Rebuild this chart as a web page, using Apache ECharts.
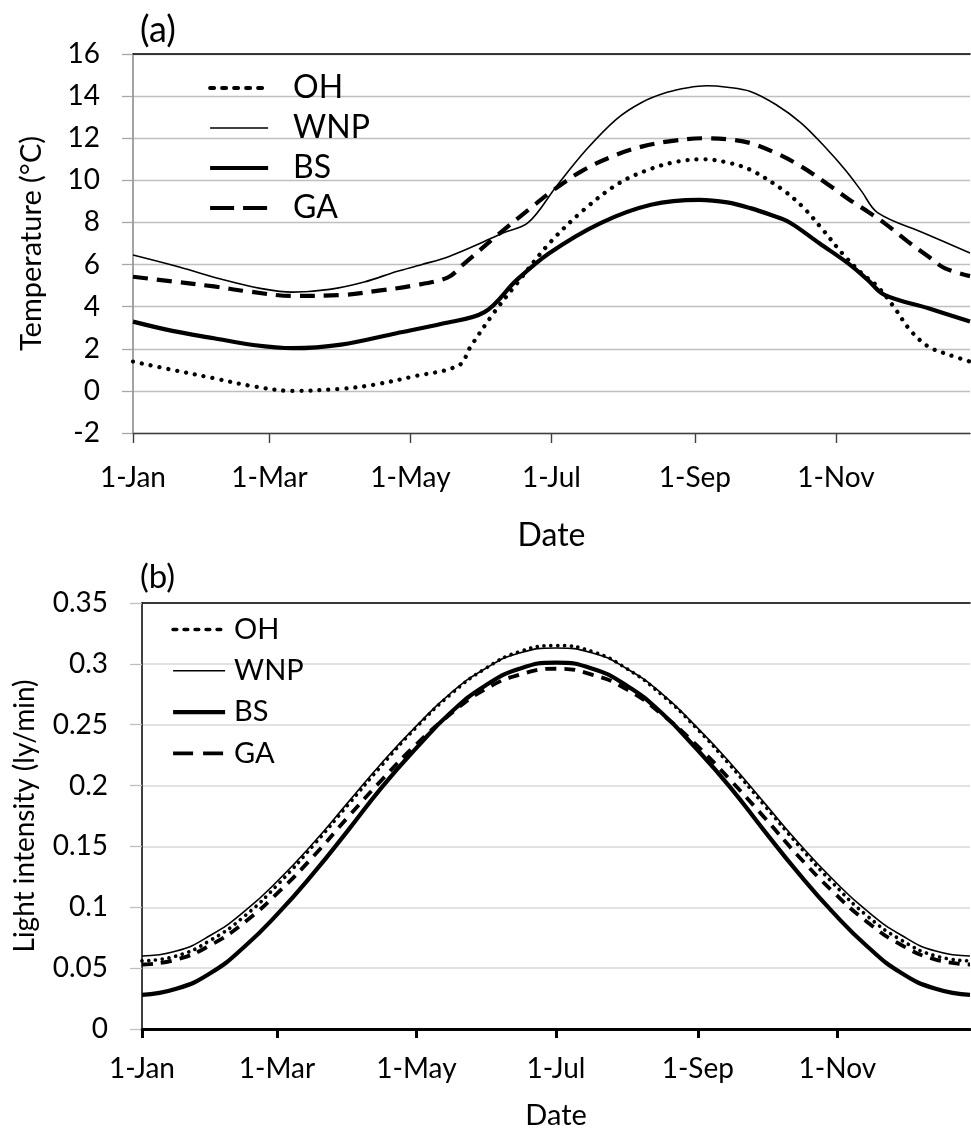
<!DOCTYPE html>
<html>
<head>
<meta charset="utf-8">
<script src="https://cdn.jsdelivr.net/npm/echarts@6/dist/echarts.min.js"></script>
<style>
html,body{margin:0;padding:0;background:#fff;}
#chart{width:971px;height:1138px;}
</style>
</head>
<body>
<div id="chart"></div>
<script>
// ---- axis ticks ----
const tickDays = [0, 59, 120, 181, 243, 304];
const tickLabels = ['1-Jan', '1-Mar', '1-May', '1-Jul', '1-Sep', '1-Nov'];
const seriesNames = ['OH', 'WNP', 'BS', 'GA'];

// ---- (a) temperature, [day of year] and value (°C) ----
const ohTempDays = [0,17,35,52,69,90,104,121,141,146,156,166,180,195,210,224,236,247,257,267,281,290,298,307,315,322,329,336,344,352,362];
const ohTemp     = [1.39,1.0,0.6,0.22,0.0,0.1,0.29,0.68,1.22,2.1,3.7,5.1,7.0,8.6,9.85,10.55,10.9,11.0,10.85,10.5,9.55,8.7,7.7,6.5,5.6,4.96,4.0,2.9,2.1,1.75,1.39];

const wnpTempDays = [0,20,40,55,69,85,100,114,125,137,150,160,171,183,196,209,220,231,240,248,257,267,278,289,300,308,315,322,342,362];
const wnpTemp     = [6.45,5.88,5.25,4.87,4.69,4.82,5.17,5.67,6.0,6.4,7.0,7.5,8.0,9.7,11.45,12.9,13.7,14.18,14.4,14.49,14.42,14.22,13.6,12.72,11.5,10.5,9.5,8.47,7.5,6.55];

const bsTempDays = [0,17,35,52,69,90,114,134,152,166,180,202,224,245,257,267,276,284,297,310,318,325,344,362];
const bsTemp     = [3.29,2.85,2.5,2.18,2.03,2.2,2.74,3.2,3.74,5.27,6.54,7.96,8.84,9.07,8.95,8.68,8.35,8.0,7.0,6.0,5.25,4.56,3.92,3.3];

const gaTempDays = [0,17,35,50,69,90,107,120,136,143,156,171,182,195,209,220,231,247,257,267,278,289,300,310,318,325,335,344,351,362];
const gaTemp     = [5.42,5.2,4.96,4.72,4.51,4.55,4.77,4.98,5.38,6.02,7.25,8.6,9.55,10.5,11.21,11.6,11.84,12.0,11.95,11.77,11.3,10.66,9.85,9.07,8.5,7.97,7.1,6.38,5.83,5.45];

// ---- (b) light intensity (ly/min) ----
const lightDays = [0,15,30,45,60,75,90,105,120,135,150,165,181,197,212,227,242,257,272,287,302,317,332,347,362];
const ohLight  = [0.056,0.060,0.073,0.093,0.120,0.151,0.184,0.217,0.248,0.275,0.296,0.310,0.315,0.310,0.296,0.275,0.248,0.217,0.184,0.151,0.120,0.093,0.073,0.060,0.056];
const wnpLight = [0.060,0.064,0.077,0.097,0.123,0.153,0.186,0.219,0.249,0.276,0.296,0.309,0.313,0.309,0.296,0.276,0.249,0.219,0.186,0.153,0.123,0.097,0.077,0.064,0.060];
const bsLight  = [0.028,0.033,0.046,0.068,0.096,0.128,0.163,0.199,0.231,0.260,0.282,0.296,0.301,0.296,0.282,0.260,0.231,0.199,0.163,0.128,0.096,0.068,0.046,0.033,0.028];
const gaLight  = [0.053,0.057,0.069,0.088,0.113,0.142,0.174,0.205,0.234,0.259,0.279,0.291,0.296,0.291,0.279,0.259,0.234,0.205,0.174,0.142,0.113,0.088,0.069,0.057,0.053];

const pairs = (days, vals) => days.map((d, i) => [d, vals[i]]);
const FONT = 'Lato';

const styleTop = {
  OH:  {color:'#000', width:4.3, type:[0.01, 9], cap:'round'},
  WNP: {color:'#000', width:1.6, type:'solid'},
  BS:  {color:'#000', width:4.2, type:'solid'},
  GA:  {color:'#000', width:4.2, type:[15, 9]}
};
const styleBot = {
  OH:  {color:'#000', width:3.7, type:[0.01, 6.8], cap:'round'},
  WNP: {color:'#000', width:1.6, type:'solid'},
  BS:  {color:'#000', width:4.2, type:'solid'},
  GA:  {color:'#000', width:3.8, type:[11, 8]}
};
// legend swatches (legend icons do not take round caps)
const legendTop = {
  OH:  {width:4, type:[4, 8]},
  WNP: {width:1.6, type:'solid'},
  BS:  {width:4.2, type:'solid'},
  GA:  {width:4.2, type:[24, 9]}
};
const legendBot = {
  OH:  {width:3.6, type:[3.6, 7.4]},
  WNP: {width:1.6, type:'solid'},
  BS:  {width:4.2, type:'solid'},
  GA:  {width:3.8, type:[20, 10]}
};

function lineSeries(name, data, xi, yi, st, smooth, z) {
  return {
    name: name, type: 'line', data: data, xAxisIndex: xi, yAxisIndex: yi,
    symbol: 'none', smooth: smooth, z: z,
    lineStyle: {color: st.color, width: st.width, type: st.type, cap: st.cap || 'butt'},
    itemStyle: {color: '#000'}
  };
}

const labelFmt = v => { const i = tickDays.indexOf(v); return i >= 0 ? tickLabels[i] : ''; };

function legendData(styles) {
  return seriesNames.map(n => ({
    name: n,
    lineStyle: {width: styles[n].width, type: styles[n].type, color: '#000'}
  }));
}

const option = {
  animation: false,
  backgroundColor: '#fff',
  title: [
    {text: '(a)', left: 135, top: 7, textStyle: {fontFamily: FONT, fontSize: 36, fontWeight: 'normal', color: '#000'}},
    {text: '(b)', left: 135, top: 556, textStyle: {fontFamily: FONT, fontSize: 33, fontWeight: 'normal', color: '#000'}}
  ],
  legend: [
    {
      orient: 'vertical', left: 208, top: 70, padding: 0,
      itemWidth: 58, itemHeight: 14, itemGap: 4,
      itemStyle: {opacity: 0, borderWidth: 0},
      textStyle: {fontFamily: FONT, fontSize: 32, color: '#000', lineHeight: 36, padding: [0, 0, 0, 20]},
      data: legendData(legendTop)
    },
    {
      orient: 'vertical', left: 171, top: 613, padding: 0,
      itemWidth: 52, itemHeight: 14, itemGap: 8.3,
      itemStyle: {opacity: 0, borderWidth: 0},
      textStyle: {fontFamily: FONT, fontSize: 29, color: '#000', lineHeight: 33, padding: [0, 0, 0, 4]},
      data: legendData(legendBot)
    }
  ],
  grid: [
    {left: 133, top: 54, right: 1, height: 379},
    {left: 142, top: 603, right: 1, height: 426}
  ],
  xAxis: [
    {
      type: 'value', gridIndex: 0, min: 0, max: 362, position: 'bottom',
      name: 'Date', nameLocation: 'middle', nameGap: 87,
      nameTextStyle: {fontFamily: FONT, fontSize: 32, color: '#000'},
      axisLine: {onZero: false, lineStyle: {color: '#404040', width: 1.4}},
      axisTick: {show: true, length: 10, customValues: tickDays, lineStyle: {color: '#404040', width: 1.4}},
      axisLabel: {customValues: tickDays, formatter: labelFmt, margin: 31, fontFamily: FONT, fontSize: 28, color: '#000'},
      splitLine: {show: false}
    },
    {
      type: 'value', gridIndex: 0, min: 0, max: 362, position: 'top',
      axisLine: {onZero: false, lineStyle: {color: '#000', width: 1.6}},
      axisTick: {show: false}, axisLabel: {show: false}, splitLine: {show: false}
    },
    {
      type: 'value', gridIndex: 1, min: 0, max: 362, position: 'bottom',
      name: 'Date', nameLocation: 'middle', nameGap: 72,
      nameTextStyle: {fontFamily: FONT, fontSize: 29, color: '#000'},
      axisLine: {onZero: false, lineStyle: {color: '#000', width: 3}},
      axisTick: {show: true, length: 9, customValues: tickDays, lineStyle: {color: '#000', width: 3}},
      axisLabel: {customValues: tickDays, formatter: labelFmt, margin: 26, fontFamily: FONT, fontSize: 28, color: '#000'},
      splitLine: {show: false}
    },
    {
      type: 'value', gridIndex: 1, min: 0, max: 362, position: 'top',
      axisLine: {onZero: false, lineStyle: {color: '#000', width: 1.6}},
      axisTick: {show: false}, axisLabel: {show: false}, splitLine: {show: false}
    }
  ],
  yAxis: [
    {
      type: 'value', gridIndex: 0, min: -2, max: 16, interval: 2,
      name: 'Temperature (°C)', nameLocation: 'middle', nameGap: 87, nameRotate: 90,
      nameTextStyle: {fontFamily: FONT, fontSize: 29, color: '#000'},
      axisLine: {show: true, onZero: false, lineStyle: {color: '#868686', width: 1.5}},
      axisTick: {show: true, length: 11, lineStyle: {color: '#a6a6a6', width: 1.3}},
      axisLabel: {margin: 33, fontFamily: FONT, fontSize: 28, color: '#000'},
      splitLine: {show: true, lineStyle: {color: '#bfbfbf', width: 1.3}}
    },
    {
      type: 'value', gridIndex: 1, min: 0, max: 0.35, interval: 0.05,
      name: 'Light intensity (ly/min)', nameLocation: 'middle', nameGap: 103, nameRotate: 90,
      nameTextStyle: {fontFamily: FONT, fontSize: 28, color: '#000'},
      axisLine: {show: true, onZero: false, lineStyle: {color: '#000', width: 1.5}},
      axisTick: {show: true, length: 12, lineStyle: {color: '#bfbfbf', width: 1.3}},
      axisLabel: {margin: 34, fontFamily: FONT, fontSize: 28, color: '#000'},
      splitLine: {show: true, lineStyle: {color: '#d9d9d9', width: 1.5}}
    }
  ],
  series: [
    lineSeries('WNP', pairs(wnpTempDays, wnpTemp), 0, 0, styleTop.WNP, 0.35, 2),
    lineSeries('GA',  pairs(gaTempDays, gaTemp),   0, 0, styleTop.GA, 0.35, 3),
    lineSeries('BS',  pairs(bsTempDays, bsTemp),   0, 0, styleTop.BS, 0.35, 4),
    lineSeries('OH',  pairs(ohTempDays, ohTemp),   0, 0, styleTop.OH, 0.35, 5),
    lineSeries('WNP', pairs(lightDays, wnpLight), 2, 1, styleBot.WNP, true, 2),
    lineSeries('BS',  pairs(lightDays, bsLight),  2, 1, styleBot.BS, true, 3),
    lineSeries('GA',  pairs(lightDays, gaLight),  2, 1, styleBot.GA, true, 4),
    lineSeries('OH',  pairs(lightDays, ohLight),  2, 1, styleBot.OH, true, 5)
  ]
};

const chart = echarts.init(document.getElementById('chart'), null, {renderer: 'canvas'});
chart.setOption(option);
</script>
</body>
</html>
